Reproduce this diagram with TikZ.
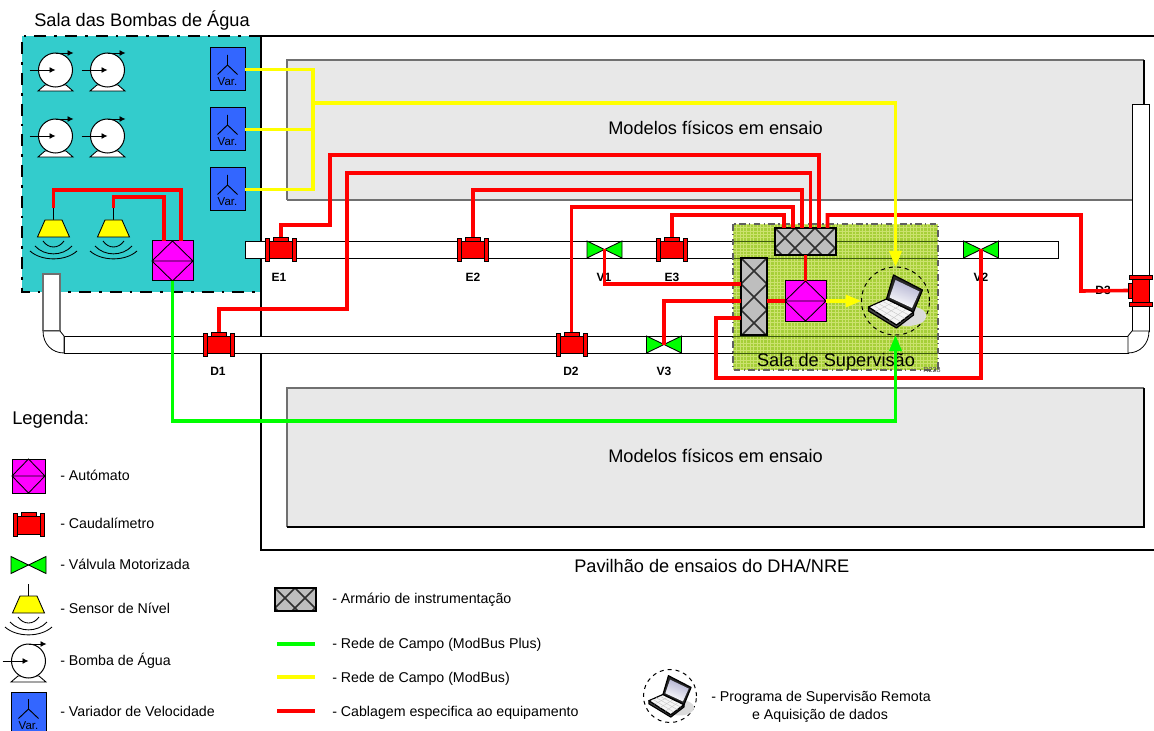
\documentclass[tikz,border=0pt]{standalone}
\usepackage{fontspec}
\setmainfont{Liberation Sans}
\usetikzlibrary{arrows.meta,calc}
\definecolor{teal1}{HTML}{33CCCC}
\definecolor{modelgray}{HTML}{E8E8E8}
\definecolor{edgegray}{HTML}{707070}
\definecolor{roomgreen}{HTML}{A6CF38}
\definecolor{roomgrid}{HTML}{CBE26E}
\definecolor{roomline}{HTML}{3F5A10}
\definecolor{varblue}{HTML}{3366FF}
\definecolor{cabgray}{HTML}{BEBEBE}
\definecolor{cabline}{HTML}{303030}
\definecolor{plcmag}{HTML}{FF00FF}
\definecolor{wred}{HTML}{FF0000}
\definecolor{wgreen}{HTML}{00FF00}
\definecolor{wyellow}{HTML}{FFFF00}
\tikzset{
  x=0.75pt,y=-0.75pt,
  dev/.style={inner sep=0pt,outer sep=0pt,draw=none},
  big/.style={inner sep=0pt,font=\fontsize{13.65pt}{16pt}\selectfont,text height=1em,text depth=0.1em},
  leg/.style={inner sep=0pt,anchor=west,font=\fontsize{10.65pt}{13pt}\selectfont,text height=0.95em,text depth=0.1em},
  tag/.style={inner sep=0pt,font=\fontsize{9pt}{11pt}\bfseries\selectfont,text height=0.8em,text depth=0.1em},
  redw/.style={draw=wred,line width=2.7pt,line join=miter},
  yelw/.style={draw=wyellow,line width=2.6pt,line join=miter},
  grnw/.style={draw=wgreen,line width=2.6pt,line join=miter},
  thinb/.style={draw=black,line width=0.65pt},
  plcstyle/.style={dev,draw=black,line width=0.75pt,fill=plcmag},
  legline/.style={line width=3pt},
}
% flow meter
\newcommand{\flowm}[4]{%
  \node[dev,minimum width=22.5pt,minimum height=18.75pt,rotate=#4] (#1) at (#2,#3) {};
  \begin{scope}[shift={(#2,#3)},rotate=#4]
    \filldraw[fill=wred,thinb] (-7.5,-12.5) rectangle (7.5,-7.5);
    \filldraw[fill=wred,thinb] (-11.5,-8.5) rectangle (11.5,9);
    \filldraw[fill=wred,thinb] (-15.5,-11.5) rectangle (-11.5,11.5);
    \filldraw[fill=wred,thinb] (11.5,-11.5) rectangle (15.5,11.5);
  \end{scope}}
% valve
\newcommand{\valv}[3]{%
  \node[dev,minimum width=25.5pt,minimum height=12.75pt] (#1) at (#2,#3) {};
  \begin{scope}[shift={(#2,#3)}]
    \filldraw[fill=wgreen,thinb] (-17.5,-8.5) -- (0,0) -- (-17.5,8.5) -- cycle;
    \filldraw[fill=wgreen,thinb] (17.5,-8.5) -- (0,0) -- (17.5,8.5) -- cycle;
  \end{scope}}
% pump
\newcommand{\pumpsym}[3]{%
  \begin{scope}[shift={(#2,#3)}]
    \filldraw[fill=white,thinb] (-17.5,21) -- (-10.5,15) -- (10.5,15) -- (17.5,21) -- cycle;
  \end{scope}
  \node[dev,draw=black,line width=0.75pt,fill=white,circle,minimum size=25.5pt] (#1) at (#2,#3) {};
  \begin{scope}[shift={(#2,#3)}]
    \draw[thinb,-{Latex[length=4.5pt,width=4.5pt]}] (0,-17) -- (18,-17);
    \draw[thinb,-{Latex[length=4.5pt,width=4.5pt]}] (-26,0) -- (0,0);
  \end{scope}}
% level sensor: node box from top of stem to lowest arc
\newcommand{\sensr}[3]{%
  \node[dev,minimum width=35pt,minimum height=38.25pt] (#1) at (#2,#3) {};
  \begin{scope}[shift={(#2,#3)}]
    \draw[thinb] (0,-25.5) -- (0,-13.5);
    \filldraw[fill=wyellow,thinb] (-8.5,-13.5) -- (8.5,-13.5) -- (16,3.5) -- (-16,3.5) -- cycle;
    \draw[thinb] (-10.5,7.5) .. controls (-5,15.5) and (5,15.5) .. (10.5,7.5);
    \draw[thinb] (-18.5,12.5) .. controls (-9,23) and (9,23) .. (18.5,12.5);
    \draw[thinb] (-23.5,17.5) .. controls (-12,28) and (12,28) .. (23.5,17.5);
  \end{scope}}
% PLC
\newcommand{\plcbox}[5]{%
  \node[plcstyle,minimum width=#4*0.75pt,minimum height=#5*0.75pt] (#1) at (#2,#3) {};
  \draw[thinb] (#1.north) -- (#1.east) -- (#1.south) -- (#1.west) -- cycle (#1.west) -- (#1.east);}
% cabinet
\newcommand{\cabnt}[6]{%
  \node[dev,fill=cabgray,minimum width=#4*0.75pt,minimum height=#5*0.75pt] (#1) at (#2,#3) {};
  \begin{scope}
    \clip (#1.north west) rectangle (#1.south east);
    \foreach \k in {-8,...,8}{
      \draw[cabline,line width=1.15pt] ([shift={(\k*#6,0)}]#1.north west) -- ++(120,120);
      \draw[cabline,line width=1.15pt] ([shift={(\k*#6,0)}]#1.north west) -- ++(-120,120);
    }
  \end{scope}
  \draw[black,line width=0.9pt] (#1.north west) rectangle (#1.south east);}
% variator
\newcommand{\varbox}[3]{%
  \node[dev,draw=black,line width=0.75pt,fill=varblue,minimum width=26.25pt,minimum height=32.25pt] (#1) at (#2,#3) {};
  \begin{scope}[shift={(#2,#3)}]
    \draw[black,line width=0.7pt] (0,-14.5) -- (0,-4.5) (-10,5) -- (0,-4.5) -- (10,5);
  \end{scope}
  \node[inner sep=0pt,font=\fontsize{8.6pt}{10pt}\selectfont,text height=0.75em,text depth=0.1em] (#1txt) at ([yshift=-8.7pt]#1.center) {Var.};}
% laptop
\newcommand{\laptp}[4]{%
  \node[dev,circle,draw=black,dashed,line width=0.75pt,minimum size=#4*51pt] (#1) at (#2,#3) {};
  \begin{scope}[shift={(#2,#3)},scale=#4]
    \fill[gray!28] (12,15) ellipse (19 and 10);
    \filldraw[fill=gray!55!black,draw=black,line width=0.9pt,line join=round] (-27,6) -- (-27,10) -- (1,27) -- (18,14) -- (18,11) -- (1,24) -- cycle;
    \filldraw[fill=gray!8,draw=black,line width=0.9pt,line join=round] (-27,6) -- (-9,-2) -- (18,11) -- (1,24) -- cycle;
    \foreach \t in {0.25,0.5,0.75}{
      \draw[gray!45,line width=0.3pt] ($(-27,6)!\t!(-9,-2)$) -- ($(1,24)!\t!(18,11)$);
      \draw[gray!45,line width=0.3pt] ($(-27,6)!\t!(1,24)$) -- ($(-9,-2)!\t!(18,11)$);
    }
    \filldraw[fill=gray!30!black,draw=black,line width=0.9pt,line join=round] (-2,-26) -- (27,-11) -- (18,11) -- (-9,-2) -- cycle;
    \shade[top color=blue!25!gray!50,bottom color=white,shading angle=-20] (0,-21) -- (24,-9.5) -- (16.5,7) -- (-6,-3.5) -- cycle;
  \end{scope}}
\begin{document}
\begin{tikzpicture}
\useasboundingbox (0,0) rectangle (1154,731);
\clip (0,0) rectangle (1154,731);
\fill[white] (0,0) rectangle (1154,731);

% pump room fill
\fill[teal1] (22,36) rectangle (261,292);

% building
\draw[black,line width=1.6pt] (1160,36) -- (261,36) -- (261,550) -- (1160,550);

% physical models
\fill[modelgray] (287,60) rectangle (1144,200);
\draw[edgegray,line width=1pt] (287,200) -- (287,60) -- (1144,60);
\draw[edgegray,line width=1pt] (287,200) -- (1144,200);
\draw[black,line width=0.8pt] (1144,60) -- (1144,200);
\fill[modelgray] (287,388) rectangle (1144,527);
\draw[edgegray,line width=1pt] (287,527) -- (287,388) -- (1144,388);
\draw[black,line width=1pt] (287,527) -- (1144,527) -- (1144,388);
\node[big] (m1) at (715.5,129) {Modelos físicos em ensaio};
\node[big] (m2) at (715.5,456) {Modelos físicos em ensaio};

% pump room border
\draw[black,line width=1.6pt,dash pattern=on 9pt off 6pt on 2pt off 6pt] (261,36) -- (22,36) -- (22,292) -- (261,292);
\node[big,anchor=west] (t1) at (34,21) {Sala das Bombas de Água};
\node[big,anchor=west] (t2) at (574,566) {Pavilhão de ensaios do DHA/NRE};
\node[inner sep=0pt,anchor=west,font=\fontsize{13.8pt}{16pt}\selectfont,text height=1em,text depth=0.1em] (t3) at (12,418) {Legenda:};

% pipes
\filldraw[fill=white,draw=black,line width=0.7pt] (245,241) rectangle (1058,258);
\filldraw[fill=white,draw=black,line width=0.7pt] (64,336) rectangle (1128,353);
\filldraw[fill=white,draw=edgegray,line width=0.85pt] (43,331) -- (43,274) -- (60,274) -- (60,331) -- (43,331);
\filldraw[fill=white,draw=black,line width=0.6pt] (43,331) .. controls (43,344) and (52,353) .. (64,353) -- (64,336) -- (60,331) -- cycle;
\filldraw[fill=white,draw=black,line width=0.7pt] (1132,331) -- (1132,104) -- (1149,104) -- (1149,331) -- cycle;
\filldraw[fill=white,draw=black,line width=0.6pt] (1149,331) .. controls (1149,344) and (1140,353) .. (1128,353) -- (1128,336) -- (1132,331) -- cycle;

% supervision room
\fill[roomgreen] (733,224) rectangle (938,370);
\foreach \k in {0,...,60}{\draw[roomgrid,line width=0.35pt] (733+\k*3.4,224) -- (733+\k*3.4,370);}
\foreach \k in {0,...,42}{\draw[roomgrid,line width=0.35pt] (733,224+\k*3.4) -- (938,224+\k*3.4);}
\draw[roomline,line width=0.6pt] (733,241) -- (938,241) (733,258) -- (938,258) (733,336) -- (938,336) (733,353) -- (938,353);
\draw[gray!75!black,line width=0.9pt,dash pattern=on 5pt off 2.5pt on 1pt off 2.5pt] (733,224) rectangle (938,370);
\node[big] (t4) at (836,360) {Sala de Supervisão};
\node[inner sep=0pt,font=\fontsize{5.4pt}{6pt}\selectfont,text=black!70] (t5) at (932,370) {R228};

% labels below the devices
\node[tag] (lE1) at (279,277) {E1};
\node[tag] (lE2) at (473,277) {E2};
\node[tag] (lV1) at (604,277) {V1};
\node[tag] (lE3) at (672,277) {E3};
\node[tag] (lV2) at (981,277) {V2};
\node[tag] (lD1) at (218,371) {D1};
\node[tag] (lD2) at (571,371) {D2};
\node[tag] (lV3) at (664,371) {V3};
\node[tag] (lD3) at (1103,290) {D3};

% pumps
\pumpsym{P1}{55.5}{70}
\pumpsym{P2}{107.5}{70}
\pumpsym{P3}{55.5}{136}
\pumpsym{P4}{107.5}{136}

% variators
\varbox{VA}{227.5}{69.5}
\varbox{VB}{227.5}{129.5}
\varbox{VC}{227.5}{189.5}

% sensors
\sensr{S1}{53.5}{233.5}
\sensr{S2}{113.5}{233.5}

% controllers
\plcbox{PA}{172.5}{261}{41}{40}
\plcbox{PB}{805.5}{301}{41}{40}

% cabinets
\cabnt{CT}{805.5}{241.5}{61}{27}{20}
\cabnt{CL}{754}{296.5}{26}{77}{26}

% flow meters
\flowm{E1}{281}{249.5}{0}
\flowm{E2}{473}{249.5}{0}
\flowm{E3}{672}{249.5}{0}
\flowm{D1}{219}{344.5}{0}
\flowm{D2}{571.5}{344.5}{0}
\flowm{D3}{1140.5}{290.5}{90}

% valves
\valv{V1}{604.5}{249.5}
\valv{V2}{981}{249.5}
\valv{V3}{664}{344.5}

% laptop
\laptp{LP}{895.5}{301}{1}

% red cabling
\draw[redw] (S1.north) -- (S1.north |- 0,190) -| (181,0 |- PA.north);
\draw[redw] (S2.north) -- (S2.north |- 0,197) -| (164,0 |- PA.north);
\draw[redw] (819,0 |- CT.north) -- (819,155) -| (330,225) -| (E1.north);
\draw[redw] (810.5,0 |- CT.north) -- (810.5,173) -| (347,309) -| (D1.north);
\draw[redw] (802,0 |- CT.north) -- (802,190) -| (E2.north);
\draw[redw] (793,0 |- CT.north) -- (793,207) -| (D2.north);
\draw[redw] (784,0 |- CT.north) -- (784,215) -| (E3.north);
\draw[redw] (827.5,0 |- CT.north) -- (827.5,215) -| (1081,291) -- (D3.north);
\draw[redw] (V1.center) |- (CL.west |- 0,284);
\draw[redw] (V3.center) |- (CL.west |- 0,301);
\draw[redw] (V2.center) |- (716,378) |- (CL.west |- 0,318);
\draw[redw] (CT.south) -- (PB.north);
\draw[redw] (CL.east |- PB.west) -- (PB.west);

% yellow network
\coordinate (ytop) at (313,69.5);
\coordinate (ybot) at (313,189.5);
\coordinate (ybus) at (313,103);
\draw[yelw] (VA.east) -- (ytop) -- (ybot) -- (VC.east);
\draw[yelw] (VB.east) -- (ytop |- VB.east);
\draw[yelw,-{Triangle[length=12pt,width=9pt]}] (ybus) -| (LP.north);
\draw[yelw,-{Triangle[length=12pt,width=9pt]}] (PB.east) -- (LP.west);

% green network
\draw[grnw,-{Triangle[length=12pt,width=9pt]}] (PA.south) |- (895.5,421) -- (LP.south);

% legend
\plcbox{LPLC}{28.5}{476}{33}{34}
\node[leg] (L1) at (60,475) {- Autómato};
\flowm{LFM}{28.5}{525}{0}
\node[leg] (L2) at (60,523) {- Caudalímetro};
\valv{LV}{28.5}{565}
\node[leg] (L3) at (60,564) {- Válvula Motorizada};
\sensr{LS}{28.5}{609.5}
\node[leg] (L4) at (60,608) {- Sensor de Nível};
\pumpsym{LP1}{28.5}{661}
\node[leg] (L5) at (60,660) {- Bomba de Água};
\varbox{LVAR}{28.5}{713.5}
\node[leg] (L6) at (60,711) {- Variador de Velocidade};

\cabnt{LC}{295.5}{599.5}{41}{23}{20}
\node[leg] (L7) at (332,598) {- Armário de instrumentação};
\coordinate (a1) at (277,644); \coordinate (a2) at (315,644);
\draw[wgreen,legline] (a1) -- (a2);
\node[leg] (L8) at (332,643) {- Rede de Campo (ModBus Plus)};
\coordinate (b1) at (277,677); \coordinate (b2) at (315,677);
\draw[wyellow,legline] (b1) -- (b2);
\node[leg] (L9) at (332,677) {- Rede de Campo (ModBus)};
\coordinate (c1) at (277,711); \coordinate (c2) at (315,711);
\draw[wred,legline] (c1) -- (c2);
\node[leg] (L10) at (332,711) {- Cablagem especifica ao equipamento};
\laptp{LL}{670}{696}{0.78}
\node[leg] (L11) at (711,696) {- Programa de Supervisão Remota};
\node[leg,anchor=center] (L12) at (820,714) {e Aquisição de dados};
\end{tikzpicture}
\end{document}
